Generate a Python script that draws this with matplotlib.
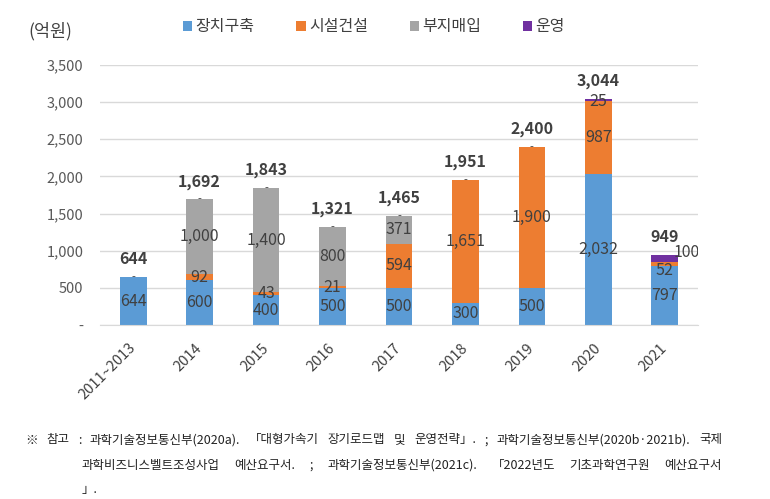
"""
Stacked bar chart of yearly budget (억원) by item: 장치구축 / 시설건설 / 부지매입 / 운영.
"""

import matplotlib
matplotlib.use("Agg")
import matplotlib.pyplot as plt
import numpy as np
from matplotlib.patches import Patch

plt.rcParams["font.family"] = ["Noto Sans CJK KR", "DejaVu Sans"]
plt.rcParams["axes.unicode_minus"] = False

# ---- data -------------------------------------------------------------
years = ["2011~2013", "2014", "2015", "2016", "2017", "2018", "2019", "2020", "2021"]
series_names = ["장치구축", "시설건설", "부지매입", "운영"]
equipment = [644, 600, 400, 500, 500, 300, 500, 2032, 797]
facility = [0, 92, 43, 21, 594, 1651, 1900, 987, 52]
land = [0, 1000, 1400, 800, 371, 0, 0, 0, 0]
operation = [0, 0, 0, 0, 0, 0, 0, 25, 100]
y_ticks = [0, 500, 1000, 1500, 2000, 2500, 3000, 3500]

footnote_lines = [
    "※ 참고 : 과학기술정보통신부(2020a). 「대형가속기 장기로드맵 및 운영전략」. ; 과학기술정보통신부(2020b·2021b). 국제",
    "과학비즈니스벨트조성사업 예산요구서. ; 과학기술정보통신부(2021c). 「2022년도 기초과학연구원 예산요구서",
    "」.",
]

COLORS = ["#5B9BD5", "#ED7D31", "#A5A5A5", "#7030A0"]
TEXT = "#404040"

# label nudges (points) for crowded segments: (series index, bar index) -> (dx, dy)
LABEL_NUDGE = {(1, 8): (0, -5), (3, 8): (16, 4), (3, 7): (0, -1)}


def fmt(v):
    return "-" if v == 0 else f"{v:,.0f}"


fig = plt.figure(figsize=(7.7, 4.99), dpi=100)
ax = fig.add_axes([100 / 770, 1 - 325 / 499, 598 / 770, 260 / 499])

x = np.arange(len(years))
width = 0.4
stack = [equipment, facility, land, operation]
bottom = np.zeros(len(years))
for si, (vals, color) in enumerate(zip(stack, COLORS)):
    vals = np.array(vals, dtype=float)
    ax.bar(x, vals, width=width, bottom=bottom, color=color, zorder=2)
    for xi, (v, b) in enumerate(zip(vals, bottom)):
        # zero segments: only the top one shows its "-" (the rest are hidden anyway)
        if v == 0 and si != len(stack) - 1:
            continue
        dx, dy = LABEL_NUDGE.get((si, xi), (0, 0))
        ax.annotate(fmt(v), (xi, b + v / 2), xytext=(dx, dy), textcoords="offset points",
                    ha="center", va="center", fontsize=11.5 if v else 8, color=TEXT,
                    zorder=3, annotation_clip=False, clip_on=(dx != 0))
    bottom = bottom + vals

totals = bottom
for xi, t in enumerate(totals):
    ax.annotate(f"{t:,.0f}", (xi, t), xytext=(0, 7), textcoords="offset points",
                ha="center", va="bottom", fontsize=11.5, fontweight="bold", color=TEXT)

ax.set_xlim(-0.5, len(years) - 0.5)
ax.set_ylim(0, 3500)
ax.set_yticks(y_ticks)
ax.set_yticklabels([fmt(v) for v in y_ticks], fontsize=10.5, color="#595959")
ax.set_xticks(x)
ax.set_xticklabels(years, rotation=45, ha="right", va="center", rotation_mode="anchor",
                   fontsize=10.5, color=TEXT)
ax.tick_params(axis="both", length=0)
ax.tick_params(axis="x", pad=15)
ax.tick_params(axis="y", pad=12)
ax.grid(axis="y", color="#D9D9D9", linewidth=1, zorder=0)
for side in ["top", "right", "left"]:
    ax.spines[side].set_visible(False)
ax.spines["bottom"].set_color("#D9D9D9")

fig.text(28 / 770, 1 - 31 / 499, "(억원)", fontsize=12.5, color=TEXT, va="center", ha="left")

handles = [Patch(facecolor=c) for c in COLORS]
fig.legend(handles, series_names, loc="center", bbox_to_anchor=(374 / 770, 1 - 27 / 499),
           ncol=4, frameon=False, fontsize=11.5, handlelength=0.6, handleheight=0.6,
           handletextpad=0.2, columnspacing=2.6, labelcolor=TEXT)

# justified footnote
fig.canvas.draw()
renderer = fig.canvas.get_renderer()
line_specs = [(25, 722, 440, True), (82, 722, 465, True), (82, None, 489, False)]
for line, (x0, x1, ypix, justify) in zip(footnote_lines, line_specs):
    words = line.split(" ")
    texts = [fig.text(0, 1 - ypix / 499, w, fontsize=9, color="#222222", va="center")
             for w in words]
    widths = [t.get_window_extent(renderer).width for t in texts]
    if justify and len(words) > 1:
        gap = (x1 - x0 - sum(widths)) / (len(words) - 1)
    else:
        gap = 6
    cur = x0
    for t, w in zip(texts, widths):
        t.set_x(cur / 770)
        cur += w + gap

fig.savefig("out.png", dpi=100)
